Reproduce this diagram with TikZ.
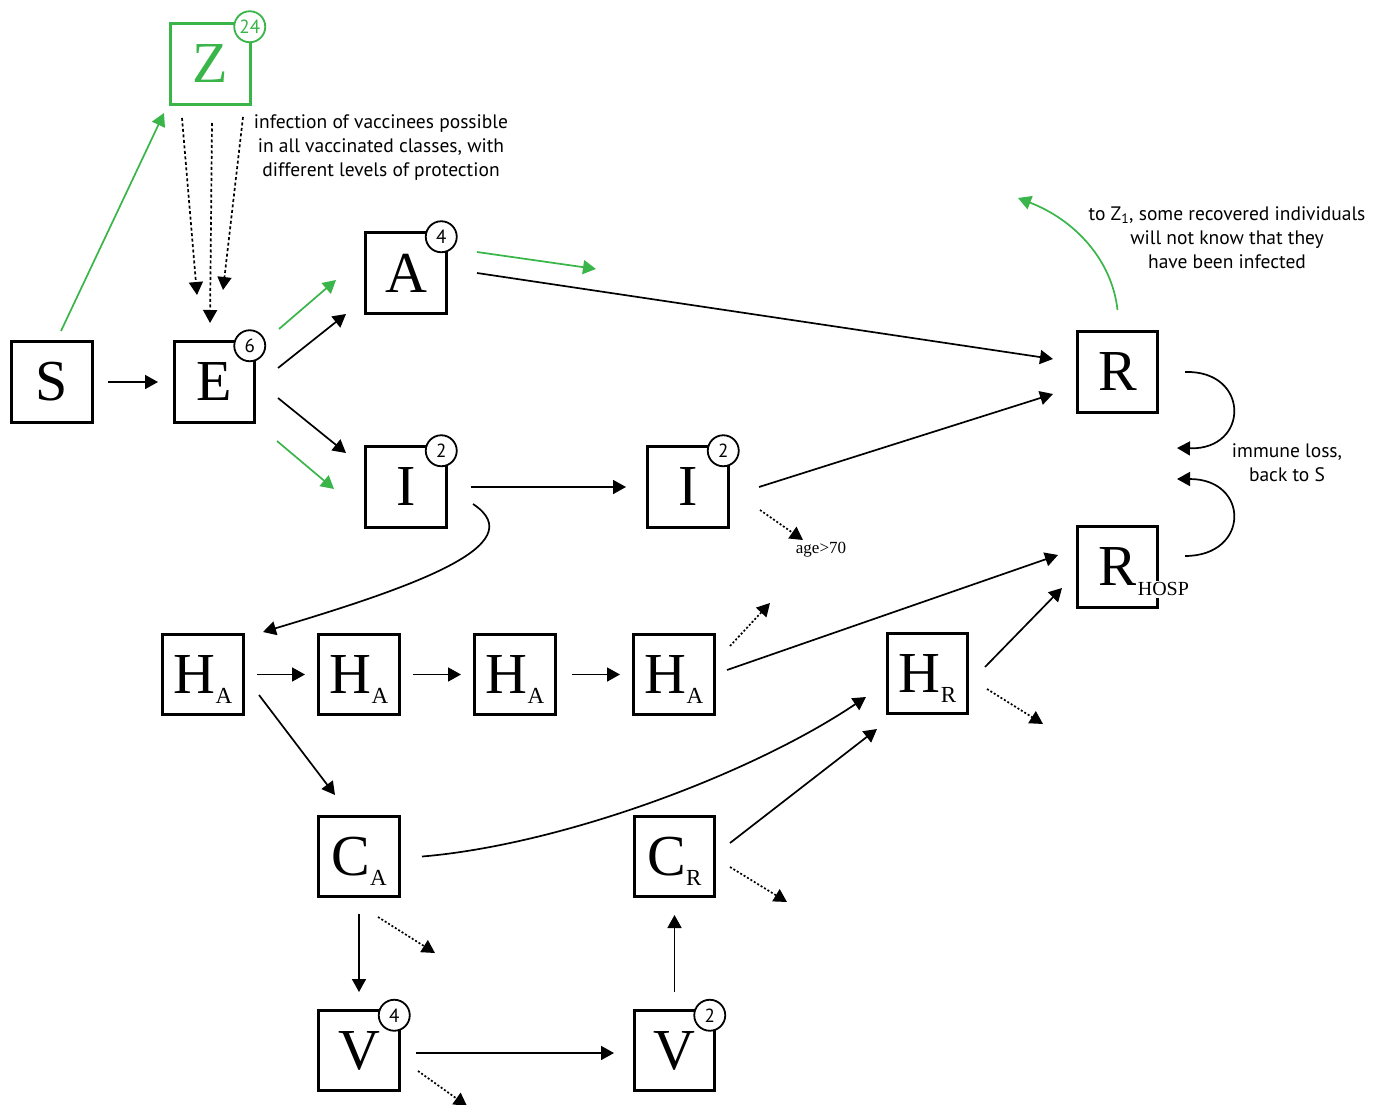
\documentclass[tikz,border=0pt]{standalone}
\usepackage{fontspec}
\setsansfont{PT Sans}
\setmainfont{Liberation Serif}
\usetikzlibrary{calc,arrows.meta}
\definecolor{vgreen}{RGB}{57,181,74}
\newcommand\mysub[1]{\raisebox{-10pt}[0pt][0pt]{\fontsize{23}{23}\selectfont #1}}
\begin{document}
\begin{tikzpicture}[x=1pt,y=-1pt,
  box/.style={draw,line width=2.8pt,minimum size=80.5pt,inner sep=0pt,outer sep=0pt,font=\fontsize{58}{60}\selectfont},
  badge/.style={draw,circle,fill=white,line width=1.8pt,minimum size=31pt,inner sep=0pt,font=\sffamily\fontsize{19}{19}\selectfont},
  arr/.style={line width=1.7pt,-{Triangle[length=13pt,width=14pt]}},
  garr/.style={arr,vgreen},
  dotarr/.style={arr,dash pattern=on 2pt off 2pt},
  zarr/.style={arr,dash pattern=on 3pt off 2.5pt},
  ann/.style={align=center,font=\sffamily\fontsize{19.5}{24}\selectfont},
]
\clip (0,0) rectangle (1381,1105);
% boxes
\node[box] (S) at (52,382) {S};
\node[box] (E) at (214.5,382) {E};
\node[box,draw=vgreen,text=vgreen] (Z) at (210.5,64) {Z};
\node[box] (A) at (406,273) {A};
\node[box] (I1) at (406,487) {I};
\node[box] (I2) at (688,487) {I};
\node[box] (R) at (1117.5,372) {R};
\node[box] (RH) at (1117.5,567) {R\rlap{\raisebox{-10pt}[0pt][0pt]{\fontsize{20}{20}\selectfont\setlength{\fboxsep}{2pt}\hspace{-1pt}\colorbox{white}{HOSP}}}};
\node[box] (H1) at (203,674.5) {H\mysub{A}};
\node[box] (H2) at (359,674.5) {H\mysub{A}};
\node[box] (H3) at (515,674.5) {H\mysub{A}};
\node[box] (H4) at (674,674.5) {H\mysub{A}};
\node[box] (HR) at (927.5,673.5) {H\mysub{R}};
\node[box] (CA) at (359,856.5) {C\mysub{A}};
\node[box] (CR) at (674.5,856.5) {C\mysub{R}};
\node[box] (V1) at (359,1050.5) {V};
\node[box] (V2) at (674.5,1050.5) {V};
% badges
\node[badge,draw=vgreen,text=vgreen] (bZ) at ($(Z.north east)+(-1,3)$) {24};
\node[badge] (bE) at ($(E.north east)+(-5,4)$) {6};
\node[badge] (bA) at ($(A.north east)+(-5,4)$) {4};
\node[badge] (bI1) at ($(I1.north east)+(-5,4)$) {2};
\node[badge] (bI2) at ($(I2.north east)+(-5,4)$) {2};
\node[badge] (bV1) at ($(V1.north east)+(-5,5)$) {4};
\node[badge] (bV2) at ($(V2.north east)+(-5,5)$) {2};
% free ends
\coordinate (Ag) at (596,269);
\coordinate (I2d) at (803,540);
\coordinate (H4d) at (770,603);
\coordinate (HRd) at (1043,724);
\coordinate (CAd) at (435,953);
\coordinate (CRd) at (787,902);
\coordinate (V1d) at (467,1106);
\coordinate (Rl) at (1177,448);
\coordinate (RHl) at (1177,479);
\coordinate (Rg) at (1018,198);
% texts
\node[ann] (tZ) at (381,148) {infection of vaccinees possible\\in all vaccinated classes, with\\different levels of protection};
\node[ann] (tR) at (1227,238) {to Z\textsubscript{1}, some recovered individuals\\will not know that they\\have been infected};
\node[ann] (tI) at (1287,463) {immune loss,\\back to S};
\node[font=\fontsize{17}{17}\selectfont] (tage) at (821,550) {age>70};
% connectors
\draw[arr] ($(S)+(56,0)$) -- ($(E)+(-56.5,0)$);
\draw[garr] ($(S)+(9,-51)$) -- ($(Z)+(-46.5,49)$);
\draw[zarr] ($(Z)+(-28.5,54)$) -- ($(E)+(-17.5,-87)$);
\draw[zarr] ($(Z)+(1.5,59)$) -- ($(E)+(-4.5,-59)$);
\draw[zarr] ($(Z)+(32.5,53)$) -- ($(E)+(8.5,-92)$);
\draw[garr] ($(E)+(64.5,-53)$) -- ($(A)+(-70,7)$);
\draw[arr] ($(E)+(63.5,-14)$) -- ($(A)+(-60,41)$);
\draw[arr] ($(E)+(63.5,16)$) -- ($(I1)+(-60,-34)$);
\draw[garr] ($(E)+(62.5,59)$) -- ($(I1)+(-72,2)$);
\draw[garr] ($(A)+(71,-21)$) -- (Ag);
\draw[arr] ($(A)+(71,0)$) -- ($(R)+(-64.5,-13)$);
\draw[arr] ($(I1)+(65,0)$) -- ($(I2)+(-62,0)$);
\draw[arr] ($(I2)+(71,0)$) -- ($(R)+(-64.5,22)$);
\draw[dotarr] ($(I2)+(72,23)$) -- (I2d);
\draw[arr] ($(I1)+(67,17)$) .. controls (535,545) and (410,588) .. ($(H1)+(60,-42.5)$);
\draw[arr] ($(H1)+(54,0)$) -- ($(H2)+(-54,0)$);
\draw[arr] ($(H2)+(54,0)$) -- ($(H3)+(-54,0)$);
\draw[arr] ($(H3)+(57,0)$) -- ($(H4)+(-54,0)$);
\draw[arr] ($(H4)+(53,-4.5)$) -- ($(RH)+(-59.5,-12)$);
\draw[dotarr] ($(H4)+(56,-28.5)$) -- (H4d);
\draw[arr] ($(H1)+(56,20.5)$) -- ($(CA)+(-24,-61.5)$);
\draw[arr] ($(CA)+(63,0)$) .. controls (560,845) and (750,775) .. ($(HR)+(-61.5,23.5)$);
\draw[arr] ($(CR)+(55.5,-13.5)$) -- ($(HR)+(-50.5,55.5)$);
\draw[arr] ($(HR)+(57.5,-6.5)$) -- ($(RH)+(-55.5,21)$);
\draw[dotarr] ($(HR)+(59.5,15.5)$) -- (HRd);
\draw[arr] ($(CA)+(0,57.5)$) -- ($(V1)+(0,-58.5)$);
\draw[dotarr] ($(CA)+(19,60.5)$) -- (CAd);
\draw[dotarr] ($(CR)+(55.5,10.5)$) -- (CRd);
\draw[arr] ($(V2)+(0,-58.5)$) -- ($(CR)+(0,58.5)$);
\draw[arr] ($(V1)+(57,2.5)$) -- ($(V2)+(-60.5,2.5)$);
\draw[dotarr] ($(V1)+(59,20.5)$) -- (V1d);
\draw[arr] ($(R)+(67.5,0)$) .. controls (1250,370) and (1250,450) .. (Rl);
\draw[arr] ($(RH)+(67.5,-11)$) .. controls (1250,556) and (1250,479) .. (RHl);
\draw[garr] ($(R)+(0,-62)$) .. controls (1112,260) and (1075,220) .. (Rg);
\end{tikzpicture}
\end{document}
